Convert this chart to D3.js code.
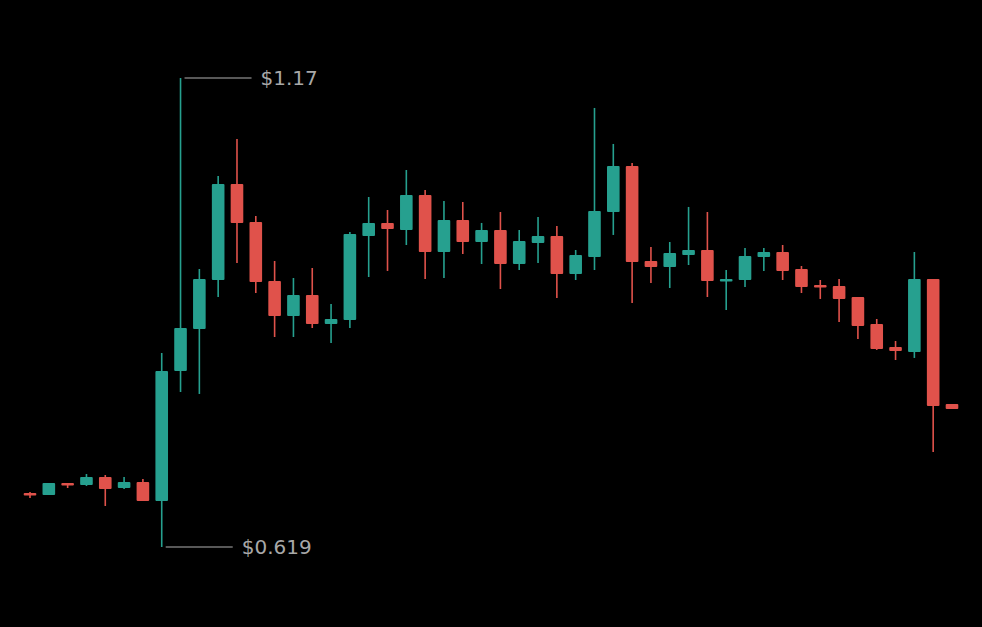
<!DOCTYPE html>
<html>
<head>
<meta charset="utf-8">
<script src="https://cdn.jsdelivr.net/npm/d3@7"></script>
<style>
  html, body { margin: 0; padding: 0; background: #000; }
  svg { display: block; }
</style>
</head>
<body>
<svg id="chart" width="982" height="627"></svg>
<script>
const opens  = [0.6825,0.6801,0.6942,0.6919,0.7013,0.6883,0.6954,0.6731,0.8258,0.8751,
                0.9327,1.0455,1.0008,0.9315,0.8904,0.9151,0.8810,0.8857,0.9844,0.9997,
                0.9914,1.0326,0.9656,1.0032,0.9773,0.9914,0.9515,0.9762,0.9844,0.9397,
                0.9597,1.0126,1.0666,0.9550,0.9480,0.9621,0.9679,0.9327,0.9327,0.9597,
                0.9656,0.9456,0.9268,0.9256,0.9127,0.8810,0.8540,0.8481,0.9339,0.7870];
const closes = [0.6801,0.6942,0.6919,0.7013,0.6872,0.6954,0.6731,0.8258,0.8763,0.9339,
                1.0455,0.9997,0.9303,0.8904,0.9151,0.8810,0.8869,0.9867,0.9997,0.9926,
                1.0326,0.9656,1.0032,0.9773,0.9914,0.9515,0.9785,0.9844,0.9397,0.9621,
                1.0138,1.0666,0.9538,0.9480,0.9644,0.9679,0.9315,0.9339,0.9609,0.9656,
                0.9433,0.9245,0.9245,0.9104,0.8787,0.8516,0.8493,0.9339,0.7847,0.7811];
const highs  = [0.6836,0.6942,0.6942,0.7048,0.7036,0.7013,0.6989,0.8469,1.1700,0.9456,
                1.0549,1.0983,1.0079,0.9550,0.9350,0.9468,0.9045,0.9891,1.0302,1.0149,
                1.0619,1.0384,1.0255,1.0243,0.9997,1.0126,0.9914,1.0067,0.9961,0.9679,
                1.1348,1.0925,1.0701,0.9715,0.9773,1.0185,1.0126,0.9444,0.9703,0.9703,
                0.9738,0.9491,0.9327,0.9339,0.9127,0.8869,0.8610,0.9656,0.9339,0.7870];
const lows   = [0.6766,0.6801,0.6883,0.6907,0.6672,0.6872,0.6731,0.6190,0.8011,0.7988,
                0.9127,0.9527,0.9174,0.8657,0.8657,0.8763,0.8587,0.8763,0.9362,0.9433,
                0.9738,0.9339,0.9350,0.9632,0.9515,0.9221,0.9444,0.9527,0.9115,0.9327,
                0.9444,0.9856,0.9057,0.9292,0.9233,0.9503,0.9127,0.8975,0.9245,0.9433,
                0.9327,0.9174,0.9104,0.8834,0.8634,0.8505,0.8387,0.8411,0.7306,0.7811];
const maxLabel = "$1.17";
const minLabel = "$0.619";

const data = opens.map((o, i) => ({ i, o, c: closes[i], h: highs[i], l: lows[i] }));

const svg = d3.select("#chart");
const W = 982, H = 627;
svg.append("rect").attr("width", W).attr("height", H).attr("fill", "#000");

const x = d3.scaleBand()
  .domain(data.map(d => d.i))
  .range([20.6, 961.4])
  .paddingInner(0.33)
  .paddingOuter(0.165);

const yMin = d3.min(lows), yMax = d3.max(highs);
const y = d3.scaleLinear().domain([yMin, yMax]).range([547, 78]);

const GREEN = "#26a08f", RED = "#e0524b";
const col = d => d.c >= d.o ? GREEN : RED;
const cx = d => x(d.i) + x.bandwidth() / 2;

const g = svg.append("g");
g.selectAll("line.wick").data(data).join("line")
  .attr("class", "wick")
  .attr("x1", cx).attr("x2", cx)
  .attr("y1", d => y(d.h)).attr("y2", d => y(d.l))
  .attr("stroke", col).attr("stroke-width", 1.6);

g.selectAll("rect.body").data(data).join("rect")
  .attr("class", "body")
  .attr("x", d => x(d.i))
  .attr("width", x.bandwidth())
  .attr("y", d => y(Math.max(d.o, d.c)))
  .attr("height", d => Math.max(2.5, Math.abs(y(d.o) - y(d.c))))
  .attr("rx", 1)
  .attr("fill", col);

// annotations
const iMax = d3.maxIndex(highs), iMin = d3.minIndex(lows);
function annotate(i, val, label) {
  const px = cx(data[i]) + 4;
  const py = y(val);
  svg.append("line")
    .attr("x1", px).attr("x2", px + 67)
    .attr("y1", py).attr("y2", py)
    .attr("stroke", "#b0b0b0").attr("stroke-width", 1.2);
  svg.append("text")
    .attr("x", px + 76).attr("y", py)
    .attr("dy", "0.35em")
    .attr("fill", "#a8a8a8")
    .attr("font-family", "DejaVu Sans, sans-serif")
    .attr("font-size", 20)
    .text(label);
}
annotate(iMax, highs[iMax], maxLabel);
annotate(iMin, lows[iMin], minLabel);
</script>
</body>
</html>
